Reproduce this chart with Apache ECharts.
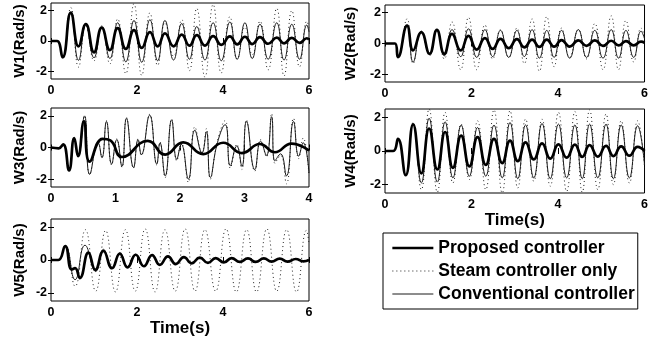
<!DOCTYPE html>
<html><head><meta charset="utf-8">
<script src="https://cdn.jsdelivr.net/npm/echarts@6/dist/echarts.min.js"></script>
<style>html,body{margin:0;padding:0;background:#fff}#c{width:651px;height:347px}</style>
</head><body><div id="c"></div>
<script>
// ---- tick labels ----
const xTicks6 = [0, 2, 4, 6];
const xTicks4 = [0, 1, 2, 3, 4];
const yTicks = [-2, 0, 2];
const seriesNames = ['Proposed controller', 'Steam controller only', 'Conventional controller'];
const yNames = ['W1(Rad/s)', 'W2(Rad/s)', 'W3(Rad/s)', 'W4(Rad/s)', 'W5(Rad/s)'];
const xName = 'Time(s)';

// ---- W1 ----
const W1_t = [0, 0.14, 0.27, 0.46, 0.64, 0.81, 1.0, 1.18, 1.37, 1.55, 1.74, 1.93, 2.11, 2.30, 2.48, 2.65, 2.85, 3.04, 3.22, 3.39, 3.58, 3.77, 3.96, 4.16, 4.33, 4.51, 4.68, 4.86, 5.05, 5.25, 5.42, 5.6, 5.78, 5.95, 6.0];
const W1_prop = [0, 0, -1.07, 1.87, -0.35, 1.12, -0.75, 0.88, -0.6, 0.85, -0.52, 0.72, -0.45, 0.58, -0.35, 0.5, -0.35, 0.42, -0.3, 0.38, -0.3, 0.32, -0.25, 0.3, -0.22, 0.28, -0.2, 0.25, -0.18, 0.22, -0.15, 0.2, -0.12, 0.18, 0.1];
const W1_conv = [0, 0, -1.1, 1.8, -1.27, 1.05, -1.1, 0.9, -1.15, 1.2, -1.37, 1.35, -1.4, 1.4, -1.3, 1.35, -1.25, 1.15, -1.2, 0.95, -1.25, 1.2, -1.3, 1.25, -1.2, 1.2, -1.15, 1.1, -1.2, 1.2, -1.25, 1.1, -1.2, 1.05, 0.6];
const W1_steam = [0, 0, -1.1, 2.2, -1.72, 1.0, -1.3, 1.0, -1.5, 1.45, -2.15, 2.45, -2.26, 1.85, -1.6, 1.2, -1.0, 1.4, -1.95, 2.15, -2.37, 2.4, -2.1, 1.6, -1.2, 0.9, -0.9, 1.3, -1.9, 2.15, -2.3, 2.0, -1.7, 1.3, 0.9];

// ---- W2 ----
const W2_t = [0, 0.23, 0.30, 0.51, 0.65, 0.84, 1.03, 1.2, 1.37, 1.55, 1.75, 1.93, 2.12, 2.31, 2.49, 2.67, 2.86, 3.05, 3.22, 3.40, 3.57, 3.74, 3.91, 4.08, 4.27, 4.47, 4.66, 4.85, 5.04, 5.23, 5.40, 5.57, 5.75, 5.92, 6.0];
const W2_prop = [0, 0, -0.88, 1.16, -0.45, 0.73, -0.67, 0.88, -0.67, 0.62, -0.45, 0.5, -0.4, 0.35, -0.35, 0.3, -0.3, 0.28, -0.25, 0.25, -0.22, 0.25, -0.2, 0.22, -0.2, 0.2, -0.15, 0.2, -0.15, 0.18, -0.12, 0.15, -0.12, 0.12, 0.05];
const W2_conv = [0, 0, -0.9, 1.2, -1.2, 0.8, -0.7, 0.85, -0.8, 0.9, -0.85, 0.95, -0.9, 0.9, -0.85, 0.85, -0.9, 0.85, -0.85, 0.9, -0.95, 0.85, -0.9, 0.85, -0.95, 0.9, -0.9, 0.85, -0.95, 0.9, -0.95, 0.85, -0.9, 0.8, 0.3];
const W2_steam = [0, 0, -0.9, 1.6, -1.3, 0.8, -0.8, 0.9, -1.0, 1.4, -1.7, 1.7, -1.7, 1.2, -1.0, 0.9, -0.9, 1.0, -1.3, 1.6, -1.8, 1.75, -1.5, 1.0, -0.9, 0.9, -1.0, 1.3, -1.7, 1.8, -1.7, 1.5, -1.2, 1.0, 0.5];

// ---- W3 ----
const W3_t_prop = [0, 0.12, 0.19, 0.28, 0.36, 0.42, 0.51, 0.6, 0.8, 0.92, 1.1, 1.5, 1.77, 2.05, 2.36, 2.67, 2.96, 3.24, 3.47, 3.73, 4.0];
const W3_prop = [0, -0.05, 0.2, -1.45, 0.6, -0.55, 1.65, -0.9, 0.55, 0.45, -0.6, 0.42, -0.45, 0.32, -0.42, 0.3, -0.35, 0.22, -0.3, 0.25, -0.2];
const W3_t = [0, 0.12, 0.19, 0.28, 0.36, 0.42, 0.52, 0.6, 0.73, 0.79, 0.86, 0.94, 1.02, 1.1, 1.17, 1.28, 1.35, 1.4, 1.53, 1.64, 1.69, 1.77, 1.87, 1.95, 2.02, 2.13, 2.23, 2.34, 2.41, 2.47, 2.58, 2.7, 2.78, 2.88, 2.96, 3.03, 3.16, 3.25, 3.34, 3.42, 3.47, 3.56, 3.65, 3.76, 3.84, 3.91, 4.0];
const W3_conv = [0, -0.05, 0.2, -1.45, 0.6, -0.55, 2.0, -1.7, 0.3, -0.65, 1.65, -1.05, 0.5, -1.2, 1.85, -1.27, 0.5, -0.45, 2.05, -1.05, 0.3, -1.8, 1.75, -0.75, 0.2, -2.0, 1.1, -0.35, 1.0, -1.9, 0.3, 1.45, -1.15, 0.1, -1.2, 1.65, -1.4, 0.4, -0.5, 1.95, -0.85, -0.4, -1.8, 1.65, -0.55, 0.3, -1.6];
const W3_steam = [0, -0.05, 0.2, -1.45, 0.6, -0.55, 2.0, -1.7, 0.35, -0.6, 1.7, -1.1, 0.55, -1.25, 1.9, -1.3, 0.55, -0.5, 2.1, -1.1, 0.35, -1.9, 1.8, -0.85, 0.3, -2.2, 1.3, -0.3, 1.2, -2.0, 0.4, 1.7, -1.3, 0.2, -1.4, 1.75, -1.5, 0.5, -0.6, 2.15, -1.0, -0.5, -2.3, 1.85, -0.7, 0.6, -1.8];

// ---- W4 ----
const W4_t = [0, 0.19, 0.3, 0.48, 0.65, 0.84, 1.02, 1.21, 1.39, 1.57, 1.76, 1.95, 2.14, 2.33, 2.52, 2.71, 2.89, 3.07, 3.25, 3.44, 3.63, 3.82, 4.01, 4.2, 4.39, 4.56, 4.73, 4.92, 5.11, 5.28, 5.46, 5.65, 5.84, 6.0];
const W4_prop = [0, 0, 0.72, -1.44, 1.58, -1.33, 1.33, -1.1, 1.13, -1.0, 0.92, -0.92, 0.82, -0.82, 0.72, -0.72, 0.62, -0.6, 0.51, -0.5, 0.45, -0.45, 0.4, -0.4, 0.38, -0.35, 0.35, -0.33, 0.3, -0.3, 0.28, -0.28, 0.25, 0.0];
const W4_conv = [0, 0, 0.72, -1.44, 1.6, -1.9, 1.95, -1.85, 1.74, -1.6, 1.54, -1.5, 1.4, -1.5, 1.54, -1.6, 1.7, -1.65, 1.55, -1.6, 1.64, -1.65, 1.6, -1.6, 1.55, -1.65, 1.6, -1.6, 1.6, -1.65, 1.55, -1.6, 1.5, -0.8];
const W4_steam = [0, 0, 0.72, -1.44, 1.7, -2.3, 2.5, -2.45, 2.3, -1.9, 1.6, -1.7, 1.8, -2.3, 2.45, -2.5, 2.4, -2.2, 1.9, -1.8, 1.9, -2.1, 2.3, -2.4, 2.35, -2.45, 2.45, -2.3, 2.2, -2.0, 1.8, -1.9, 1.8, -1.0];

// ---- W5 ----
const W5_t_prop = [0, 0.17, 0.33, 0.48, 0.56, 0.67, 0.87, 1.03, 1.22, 1.42, 1.6, 1.78, 1.97, 2.16, 2.35, 2.53, 2.72, 2.9, 3.09, 3.27, 3.46, 3.65, 3.83, 4.02, 4.2, 4.39, 4.58, 4.76, 4.95, 5.13, 5.32, 5.5, 5.69, 5.87, 6.0];
const W5_prop = [0, 0, 0.85, -0.58, -0.5, -1.1, 0.45, -0.6, 0.55, -0.5, 0.38, -0.45, 0.32, -0.38, 0.3, -0.3, 0.22, -0.25, 0.18, -0.2, 0.15, -0.18, 0.12, -0.15, 0.12, -0.12, 0.1, -0.12, 0.1, -0.1, 0.08, -0.1, 0.06, -0.08, 0];
const W5_t_conv = [0, 0.17, 0.33, 0.56, 0.79, 1.04, 1.22, 1.42, 1.6, 1.78, 1.97, 2.16, 2.35, 2.53, 2.72, 2.9, 3.09, 3.27, 3.46, 3.65, 3.83, 4.02, 4.2, 4.39, 4.58, 4.76, 4.95, 5.13, 5.32, 5.5, 5.69, 5.87, 6.0];
const W5_conv = [0, 0, 0.85, -1.2, 0.9, -0.7, 0.65, -0.5, 0.45, -0.4, 0.35, -0.35, 0.3, -0.3, 0.2, -0.22, 0.15, -0.15, 0.12, -0.15, 0.1, -0.12, 0.1, -0.1, 0.08, -0.1, 0.08, -0.08, 0.05, -0.08, 0.05, -0.05, 0];
const W5_t_steam = [0, 0.17, 0.33, 0.56, 0.8, 1.04, 1.27, 1.5, 1.73, 1.96, 2.19, 2.42, 2.65, 2.89, 3.12, 3.35, 3.58, 3.83, 4.07, 4.31, 4.55, 4.78, 5.02, 5.25, 5.48, 5.71, 5.94, 6.0];
const W5_steam = [0, 0, 0.85, -1.6, 1.85, -1.9, 1.8, -1.95, 1.85, -1.9, 1.9, -1.95, 1.85, -1.9, 1.9, -1.9, 1.85, -1.9, 1.9, -1.95, 1.85, -1.95, 1.9, -1.9, 1.85, -1.95, 1.8, 1.0];

// ---- build ----
const FONT = '"Liberation Sans", Arial, Helvetica, sans-serif';
function pairs(t, v) { return t.map((x, i) => [x, v[i]]); }

const panels = [
  { left: 51, top: 3, width: 258, height: 76, xmax: 6, xt: xTicks6, yGap: 24, xname: '',
    prop: [W1_t, W1_prop], steam: [W1_t, W1_steam], conv: [W1_t, W1_conv] },
  { left: 385, top: 5, width: 262, height: 77, xmax: 6, xt: xTicks6, yGap: 27, xname: '',
    prop: [W2_t, W2_prop], steam: [W2_t, W2_steam], conv: [W2_t, W2_conv] },
  { left: 51, top: 108, width: 258, height: 79, xmax: 4, xt: xTicks4, yGap: 24, xname: '',
    prop: [W3_t_prop, W3_prop], steam: [W3_t, W3_steam], conv: [W3_t, W3_conv] },
  { left: 385, top: 109, width: 262, height: 84, xmax: 6, xt: xTicks6, yGap: 27, xname: xName,
    prop: [W4_t, W4_prop], steam: [W4_t, W4_steam], conv: [W4_t, W4_conv] },
  { left: 51, top: 219, width: 258, height: 82, xmax: 6, xt: xTicks6, yGap: 24, xname: xName,
    prop: [W5_t_prop, W5_prop], steam: [W5_t_steam, W5_steam], conv: [W5_t_conv, W5_conv] }
];

const grid = [], xAxis = [], yAxis = [], series = [];
const tickStyle = { inside: true, length: 3, lineStyle: { color: '#000', width: 1 } };
const labelStyle = { color: '#000', fontWeight: 'bold', fontSize: 12.5, fontFamily: FONT };

panels.forEach((p, i) => {
  grid.push({ left: p.left, top: p.top, width: p.width, height: p.height, show: true,
    borderColor: '#000', borderWidth: 1, backgroundColor: '#fff' });
  const xb = { gridIndex: i, type: 'value', min: 0, max: p.xmax,
    axisLine: { show: false }, splitLine: { show: false },
    axisTick: Object.assign({ customValues: p.xt }, tickStyle) };
  xAxis.push(Object.assign({}, xb, {
    position: 'bottom',
    axisLabel: Object.assign({ customValues: p.xt, margin: 5 }, labelStyle),
    name: p.xname, nameLocation: 'middle', nameGap: 18,
    nameTextStyle: { color: '#000', fontWeight: 'bold', fontSize: 17, fontFamily: FONT }
  }));
  xAxis.push(Object.assign({}, xb, { position: 'top', axisLabel: { show: false } }));
  const yb = { gridIndex: i, type: 'value', min: -2.5, max: 2.5,
    axisLine: { show: false }, splitLine: { show: false },
    axisTick: Object.assign({ customValues: yTicks }, tickStyle) };
  yAxis.push(Object.assign({}, yb, {
    position: 'left',
    axisLabel: Object.assign({ customValues: yTicks, margin: 4 }, labelStyle),
    name: yNames[i], nameLocation: 'middle', nameGap: p.yGap, nameRotate: 90,
    nameTextStyle: { color: '#000', fontWeight: 'bold', fontSize: 15, fontFamily: FONT }
  }));
  yAxis.push(Object.assign({}, yb, { position: 'right', axisLabel: { show: false } }));

  const common = { type: 'line', xAxisIndex: 2 * i, yAxisIndex: 2 * i, symbol: 'none',
    smooth: 0.5, silent: true, clip: true, itemStyle: { opacity: 0 } };
  series.push(Object.assign({}, common, { name: seriesNames[1], data: pairs(p.steam[0], p.steam[1]),
    color: '#222', lineStyle: { color: '#222', width: 1, type: [1, 3] }, z: 2 }));
  series.push(Object.assign({}, common, { name: seriesNames[2], data: pairs(p.conv[0], p.conv[1]),
    color: '#1a1a1a', lineStyle: { color: '#1a1a1a', width: 1 }, z: 3 }));
  series.push(Object.assign({}, common, { name: seriesNames[0], data: pairs(p.prop[0], p.prop[1]),
    color: '#000', lineStyle: { color: '#000', width: 2.7 }, z: 4 }));
});

const chart = echarts.init(document.getElementById('c'), null, { renderer: 'canvas' });
chart.setOption({
  animation: false,
  backgroundColor: '#fff',
  grid, xAxis, yAxis, series,
  legend: {
    data: seriesNames, orient: 'vertical', left: 383, top: 233,
    itemWidth: 41, itemHeight: 14, itemGap: 5, padding: [6, 3, 6, 8],
    itemStyle: { opacity: 0 },
    lineStyle: { width: 'inherit' },
    borderColor: '#000', borderWidth: 1, backgroundColor: '#fff', selectedMode: false,
    textStyle: { color: '#000', fontWeight: 'bold', fontSize: 17.5, fontFamily: FONT, lineHeight: 16 }
  }
});
</script></body></html>
